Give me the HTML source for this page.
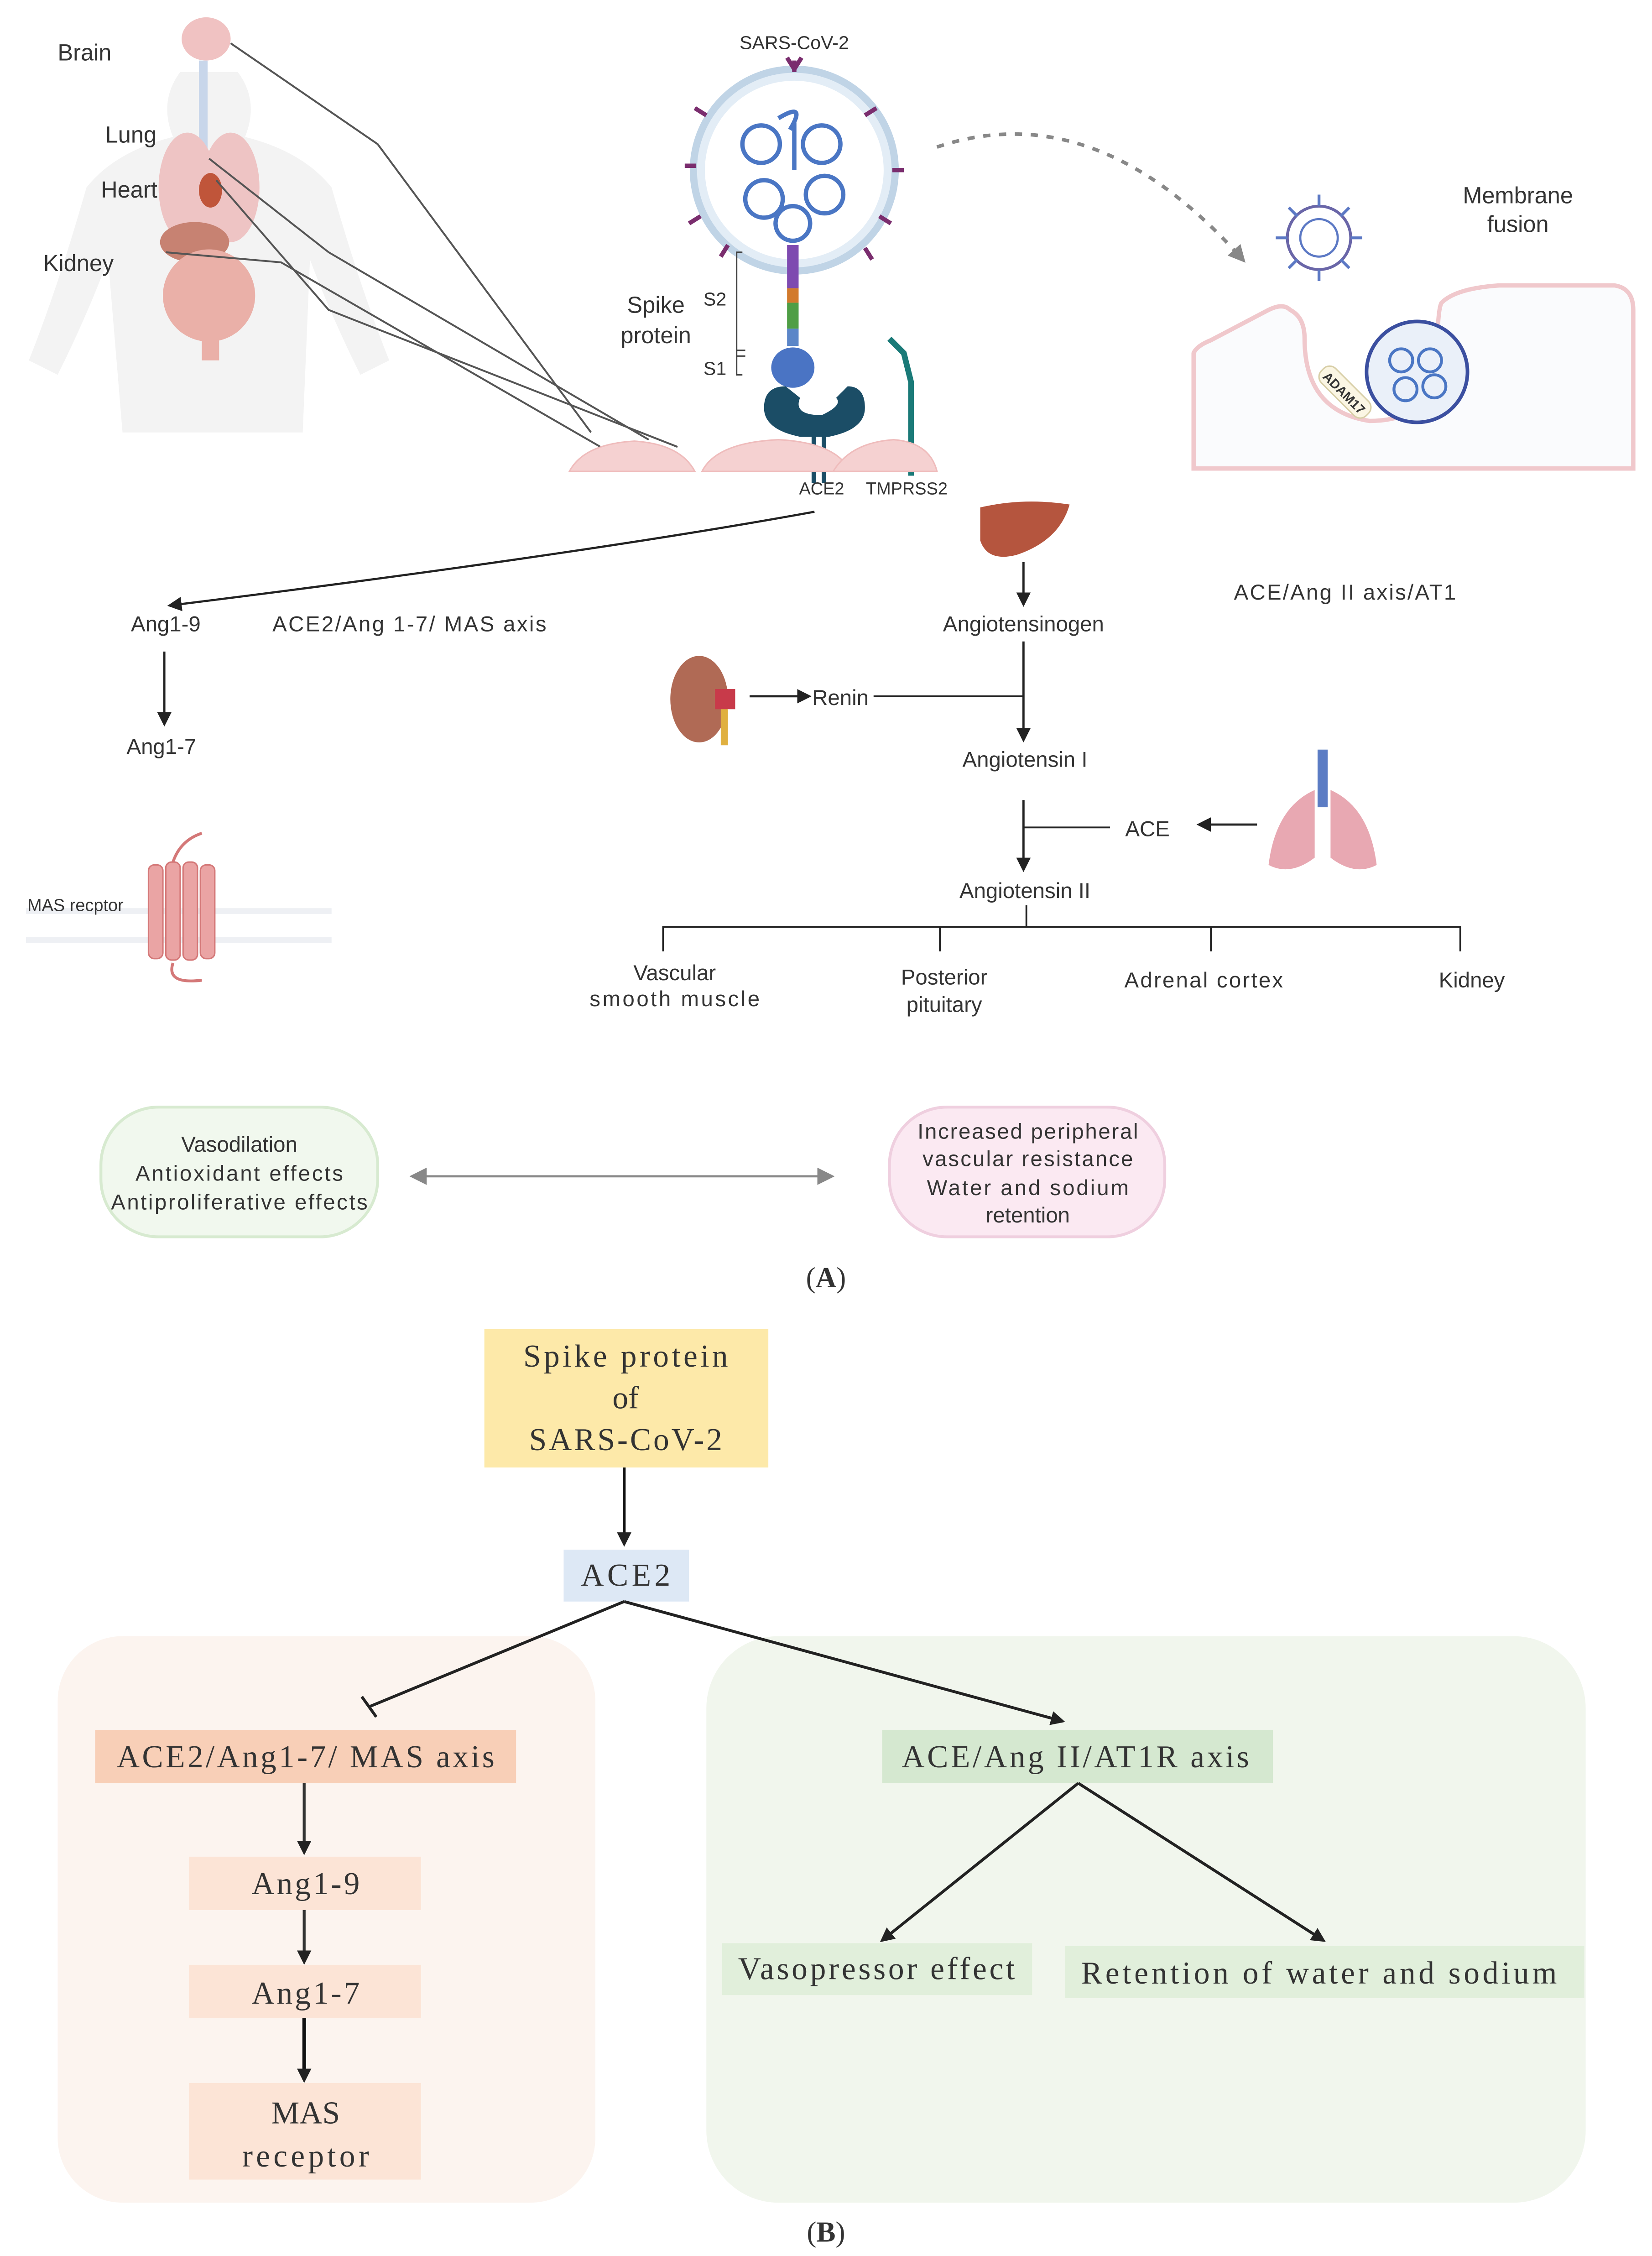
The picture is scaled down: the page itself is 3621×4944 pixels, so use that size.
<!DOCTYPE html>
<html><head><meta charset="utf-8"><style>
html,body{margin:0;padding:0;background:#fff;}
svg{display:block;}
.s{font-family:"Liberation Sans",sans-serif;fill:#333;}
.r{font-family:"Liberation Serif",serif;fill:#333;}
</style></head><body>
<svg width="3621" height="4944" viewBox="0 0 1146 1565" preserveAspectRatio="none" xmlns="http://www.w3.org/2000/svg">
<defs>
<marker id="a" markerWidth="10" markerHeight="10" refX="8" refY="5" orient="auto" markerUnits="userSpaceOnUse"><path d="M0,0 L10,5 L0,10 z" fill="#222"/></marker>
<marker id="g" markerWidth="12" markerHeight="12" refX="9" refY="6" orient="auto" markerUnits="userSpaceOnUse"><path d="M0,0 L12,6 L0,12 z" fill="#888"/></marker>
<marker id="gs" markerWidth="12" markerHeight="12" refX="3" refY="6" orient="auto" markerUnits="userSpaceOnUse"><path d="M12,0 L0,6 L12,12 z" fill="#888"/></marker>
</defs>
<rect width="1146" height="1565" fill="#fff"/>
<!-- body silhouette -->
<path d="M125,50 Q110,70 120,95 Q80,105 60,130 Q40,200 20,250 L40,260 Q60,220 75,180 L85,300 L210,300 L215,180 Q230,220 250,260 L270,250 Q250,200 230,130 Q210,105 170,95 Q180,70 165,50 Z" fill="#f3f3f3"/>
<ellipse cx="143" cy="27" rx="17" ry="15" fill="#f0c2c2"/>
<rect x="138" y="42" width="6" height="70" fill="#c8d6ea"/>
<ellipse cx="130" cy="130" rx="20" ry="38" fill="#eec4c4"/>
<ellipse cx="160" cy="130" rx="20" ry="38" fill="#eec4c4"/>
<ellipse cx="146" cy="132" rx="8" ry="12" fill="#c0553a"/>
<ellipse cx="135" cy="168" rx="24" ry="14" fill="#c78272"/>
<ellipse cx="145" cy="205" rx="32" ry="32" fill="#eab0a8"/>
<rect x="140" y="230" width="12" height="20" fill="#eab0a8"/>
<!-- organ lines -->
<g stroke="#555" stroke-width="1.3" fill="none">
<path d="M160,30 L262,100 L410,300"/>
<path d="M145,110 L228,175 L450,305"/>
<path d="M150,125 L228,215 L470,310"/>
<path d="M115,175 L195,182 L420,312"/>
</g>
<text class="s" x="40" y="42" font-size="16">Brain</text>
<text class="s" x="73" y="99" font-size="16">Lung</text>
<text class="s" x="70" y="137" font-size="16">Heart</text>
<text class="s" x="30" y="188" font-size="16">Kidney</text>
<!-- virus -->
<text class="s" x="551" y="34" font-size="13" text-anchor="middle" fill="#444">SARS-CoV-2</text>
<circle cx="551" cy="118" r="70" fill="#e3edf6" stroke="#c0d4e6" stroke-width="5"/>
<circle cx="551" cy="118" r="62" fill="#fff"/>
<g stroke="#4a76c4" stroke-width="3" fill="none">
<circle cx="528" cy="100" r="13"/><circle cx="570" cy="100" r="13"/><circle cx="530" cy="138" r="13"/><circle cx="572" cy="135" r="13"/><circle cx="550" cy="155" r="12"/><path d="M551,118 L551,85 M540,82 Q560,70 548,90"/>
</g>
<g stroke="#7a2d6e" stroke-width="3" fill="none">
<path d="M551,50 v-8 M551,48 l-5,-8 M551,48 l5,-8"/>
<path d="M490,80 l-8,-5 M600,80 l8,-5 M486,150 l-8,5 M610,150 l8,5 M505,170 l-5,8 M600,172 l5,8 M483,115 l-8,0 M619,118 l8,0"/>
</g>
<rect x="546" y="170" width="8" height="30" fill="#7e4ab0"/>
<rect x="546" y="200" width="8" height="10" fill="#d27a2c"/>
<rect x="546" y="210" width="8" height="18" fill="#4f9e45"/>
<rect x="546" y="228" width="8" height="12" fill="#5b86c8"/>
<ellipse cx="550" cy="255" rx="15" ry="14" fill="#4a74c4"/>
<path d="M515,175 h-4 v85 h4 M511,243 h6 M511,247 h6" stroke="#444" fill="none"/>
<text class="s" x="488" y="212" font-size="13">S2</text>
<text class="s" x="488" y="260" font-size="13">S1</text>
<text class="s" x="455" y="217" font-size="16" text-anchor="middle">Spike</text>
<text class="s" x="455" y="238" font-size="16" text-anchor="middle">protein</text>
<path d="M545,268 q-15,0 -15,15 q0,15 25,20 h20 q25,-5 25,-20 q0,-15 -12,-15 l-8,8 q5,5 -10,12 q-20,0 -15,-12 z" fill="#1b4d66"/>
<rect x="563" y="300" width="3" height="35" fill="#1b4d66"/><rect x="570" y="300" width="3" height="35" fill="#1b4d66"/>
<path d="M617,235 l10,10 l5,20 v65" stroke="#1a7a78" stroke-width="4" fill="none"/>
<!-- cells -->
<g fill="#f5d1d1" stroke="#efbcbc">
<path d="M395,327 Q405,308 440,306 Q472,308 482,327 Z"/>
<path d="M487,327 Q497,307 540,305 Q580,307 590,327 Z"/>
<path d="M578,327 Q590,307 620,305 Q645,307 650,327 Z"/>
</g>
<text class="s" x="570" y="343" font-size="12" text-anchor="middle">ACE2</text>
<text class="s" x="629" y="343" font-size="12" text-anchor="middle">TMPRSS2</text>
<!-- dashed arrow -->
<path d="M650,102 Q760,65 862,180" stroke="#888" stroke-width="2.5" stroke-dasharray="5,6" fill="none" marker-end="url(#g)"/>
<circle cx="915" cy="165" r="22" fill="#fff" stroke="#6a66a8" stroke-width="2"/>
<g stroke="#5b78c4" stroke-width="2"><path d="M915,143 v-8 M915,187 v8 M893,165 h-8 M937,165 h8 M900,150 l-6,-6 M930,150 l6,-6 M900,180 l-6,6 M930,180 l6,6"/></g>
<circle cx="915" cy="165" r="13" fill="none" stroke="#5b78c4" stroke-width="1.5"/>
<text class="s" x="1053" y="141" font-size="16" text-anchor="middle">Membrane</text>
<text class="s" x="1053" y="161" font-size="16" text-anchor="middle">fusion</text>
<path d="M828,325 V245 Q830,240 840,236 L880,215 Q890,210 895,215 Q905,220 905,235 Q905,285 950,292 Q995,292 997,250 Q997,215 1000,210 Q1010,200 1040,198 L1120,198 Q1133,200 1133,215 V325 Z" fill="#fafbfd" stroke="#f0c8cc" stroke-width="3"/>
<circle cx="983" cy="258" r="35" fill="#eaf0f9" stroke="#3b4fa0" stroke-width="2.5"/>
<g stroke="#4a76c4" stroke-width="2" fill="none"><circle cx="972" cy="250" r="8"/><circle cx="992" cy="250" r="8"/><circle cx="975" cy="270" r="8"/><circle cx="995" cy="268" r="8"/></g>
<g transform="translate(933,272) rotate(45)"><rect x="-22" y="-7" width="44" height="14" rx="6" fill="#fbf6e4" stroke="#d8cfa8"/><text class="s" x="0" y="4" font-size="9" text-anchor="middle" font-weight="bold">ADAM17</text></g>
<!-- ACE2 axis -->
<path d="M565,355 Q400,385 118,420" stroke="#222" stroke-width="1.5" fill="none" marker-end="url(#a)"/>
<text class="s" x="115" y="438" font-size="15" text-anchor="middle">Ang1-9</text>
<line x1="114" y1="452" x2="114" y2="502" stroke="#222" stroke-width="1.5" marker-end="url(#a)"/>
<text class="s" x="112" y="523" font-size="15" text-anchor="middle">Ang1-7</text>
<text class="s" x="284" y="438" font-size="15" text-anchor="middle" textLength="190">ACE2/Ang 1-7/ MAS axis</text>
<rect x="18" y="630" width="212" height="4" fill="#eef0f4"/><rect x="18" y="650" width="212" height="4" fill="#eef0f4"/>
<g fill="#eaa4a4" stroke="#d47878"><rect x="103" y="600" width="10" height="65" rx="4"/><rect x="115" y="598" width="10" height="68" rx="4"/><rect x="127" y="598" width="10" height="68" rx="4"/><rect x="139" y="600" width="10" height="65" rx="4"/></g>
<path d="M120,598 q5,-15 20,-20 M120,668 q-5,15 20,12" stroke="#d47878" stroke-width="2" fill="none"/>
<text class="s" x="19" y="632" font-size="12">MAS recptor</text>
<!-- RAS -->
<path d="M680,352 Q710,345 742,350 Q735,375 705,385 Q685,390 680,375 Z" fill="#b5553e"/>
<line x1="710" y1="390" x2="710" y2="419" stroke="#222" stroke-width="1.5" marker-end="url(#a)"/>
<text class="s" x="710" y="438" font-size="15" text-anchor="middle">Angiotensinogen</text>
<text class="s" x="933" y="416" font-size="15" text-anchor="middle" textLength="154">ACE/Ang II axis/AT1</text>
<ellipse cx="485" cy="485" rx="20" ry="30" fill="#b06a55"/>
<rect x="496" y="478" width="14" height="14" fill="#c83a4a"/><rect x="500" y="492" width="5" height="25" fill="#e0b040"/>
<line x1="520" y1="483" x2="561" y2="483" stroke="#222" stroke-width="1.5" marker-end="url(#a)"/>
<text class="s" x="583" y="489" font-size="15" text-anchor="middle">Renin</text>
<line x1="606" y1="483" x2="710" y2="483" stroke="#222" stroke-width="1.2"/>
<line x1="710" y1="445" x2="710" y2="513" stroke="#222" stroke-width="1.5" marker-end="url(#a)"/>
<text class="s" x="711" y="532" font-size="15" text-anchor="middle">Angiotensin I</text>
<line x1="710" y1="555" x2="710" y2="603" stroke="#222" stroke-width="1.5" marker-end="url(#a)"/>
<line x1="710" y1="574" x2="770" y2="574" stroke="#222" stroke-width="1.2"/>
<text class="s" x="796" y="580" font-size="15" text-anchor="middle">ACE</text>
<line x1="872" y1="572" x2="832" y2="572" stroke="#222" stroke-width="1.5" marker-end="url(#a)"/>
<rect x="914" y="520" width="7" height="40" fill="#5b7cc4"/>
<path d="M912,548 Q885,560 880,600 Q895,608 912,595 Z M923,548 Q950,560 955,600 Q940,608 923,595 Z" fill="#e8a8b2"/>
<text class="s" x="711" y="623" font-size="15" text-anchor="middle">Angiotensin II</text>
<path d="M712,628 V643 M460,660 V643 H1013 V660 M652,643 V660 M840,643 V660" stroke="#222" stroke-width="1.2" fill="none"/>
<text class="s" x="468" y="680" font-size="15" text-anchor="middle">Vascular</text>
<text class="s" x="468" y="698" font-size="15" text-anchor="middle" textLength="118">smooth muscle</text>
<text class="s" x="655" y="683" font-size="15" text-anchor="middle">Posterior</text>
<text class="s" x="655" y="702" font-size="15" text-anchor="middle">pituitary</text>
<text class="s" x="835" y="685" font-size="15" text-anchor="middle" textLength="110">Adrenal cortex</text>
<text class="s" x="1021" y="685" font-size="15" text-anchor="middle">Kidney</text>
<rect x="70" y="768" width="192" height="90" rx="40" fill="#f1f8ee" stroke="#d7ead0" stroke-width="2"/>
<text class="s" x="166" y="799" font-size="15" text-anchor="middle">Vasodilation</text>
<text class="s" x="166" y="819" font-size="15" text-anchor="middle" textLength="144">Antioxidant effects</text>
<text class="s" x="166" y="839" font-size="15" text-anchor="middle" textLength="178">Antiproliferative effects</text>
<rect x="617" y="768" width="191" height="90" rx="40" fill="#fbe9f2" stroke="#efcfdf" stroke-width="2"/>
<text class="s" x="713" y="790" font-size="15" text-anchor="middle" textLength="153">Increased peripheral</text>
<text class="s" x="713" y="809" font-size="15" text-anchor="middle" textLength="146">vascular resistance</text>
<text class="s" x="713" y="829" font-size="15" text-anchor="middle" textLength="140">Water and sodium</text>
<text class="s" x="713" y="848" font-size="15" text-anchor="middle">retention</text>
<line x1="287" y1="816" x2="576" y2="816" stroke="#888" stroke-width="1.5" marker-start="url(#gs)" marker-end="url(#g)"/>
<text class="r" x="573" y="893" font-size="20" text-anchor="middle">(<tspan font-weight="bold">A</tspan>)</text>
<!-- Part B -->
<rect x="40" y="1135" width="373" height="393" rx="45" fill="#fcf4ef"/>
<rect x="490" y="1135" width="610" height="393" rx="50" fill="#f1f6ed"/>
<rect x="336" y="922" width="197" height="96" fill="#fde9a9"/>
<text class="r" x="434" y="948" font-size="22" text-anchor="middle" textLength="142">Spike protein</text>
<text class="r" x="434" y="977" font-size="22" text-anchor="middle">of</text>
<text class="r" x="434" y="1006" font-size="22" text-anchor="middle" textLength="134">SARS-CoV-2</text>
<line x1="433" y1="1018" x2="433" y2="1071" stroke="#111" stroke-width="2" marker-end="url(#a)"/>
<rect x="391" y="1075" width="87" height="36" fill="#dde8f5"/>
<text class="r" x="434" y="1100" font-size="22" text-anchor="middle" textLength="62">ACE2</text>
<line x1="433" y1="1111" x2="256" y2="1184" stroke="#222" stroke-width="2"/>
<line x1="251" y1="1177" x2="261" y2="1191" stroke="#222" stroke-width="2"/>
<line x1="433" y1="1111" x2="737" y2="1194" stroke="#222" stroke-width="2" marker-end="url(#a)"/>
<rect x="66" y="1200" width="292" height="37" fill="#f8cfb7"/>
<text class="r" x="212" y="1226" font-size="22" text-anchor="middle" textLength="262">ACE2/Ang1-7/ MAS axis</text>
<line x1="211" y1="1237" x2="211" y2="1285" stroke="#333" stroke-width="2" marker-end="url(#a)"/>
<rect x="131" y="1288" width="161" height="37" fill="#fce4d6"/>
<text class="r" x="212" y="1314" font-size="22" text-anchor="middle" textLength="75">Ang1-9</text>
<line x1="211" y1="1325" x2="211" y2="1361" stroke="#333" stroke-width="2" marker-end="url(#a)"/>
<rect x="131" y="1363" width="161" height="37" fill="#fce4d6"/>
<text class="r" x="212" y="1390" font-size="22" text-anchor="middle" textLength="75">Ang1-7</text>
<line x1="211" y1="1400" x2="211" y2="1443" stroke="#111" stroke-width="2.5" marker-end="url(#a)"/>
<rect x="131" y="1445" width="161" height="67" fill="#fce4d6"/>
<text class="r" x="212" y="1473" font-size="22" text-anchor="middle">MAS</text>
<text class="r" x="212" y="1503" font-size="22" text-anchor="middle" textLength="88">receptor</text>
<rect x="612" y="1200" width="271" height="37" fill="#d5e8d0"/>
<text class="r" x="746" y="1226" font-size="22" text-anchor="middle" textLength="241">ACE/Ang II/AT1R axis</text>
<line x1="748" y1="1237" x2="612" y2="1346" stroke="#222" stroke-width="2" marker-end="url(#a)"/>
<line x1="748" y1="1237" x2="918" y2="1346" stroke="#222" stroke-width="2" marker-end="url(#a)"/>
<rect x="501" y="1348" width="215" height="36" fill="#e1efdb"/>
<text class="r" x="608" y="1373" font-size="22" text-anchor="middle" textLength="192">Vasopressor effect</text>
<rect x="739" y="1350" width="360" height="36" fill="#e1efdb"/>
<text class="r" x="915" y="1376" font-size="22" text-anchor="middle" textLength="330">Retention of water and sodium</text>
<text class="r" x="573" y="1555" font-size="20" text-anchor="middle">(<tspan font-weight="bold">B</tspan>)</text>
</svg>
</body></html>
